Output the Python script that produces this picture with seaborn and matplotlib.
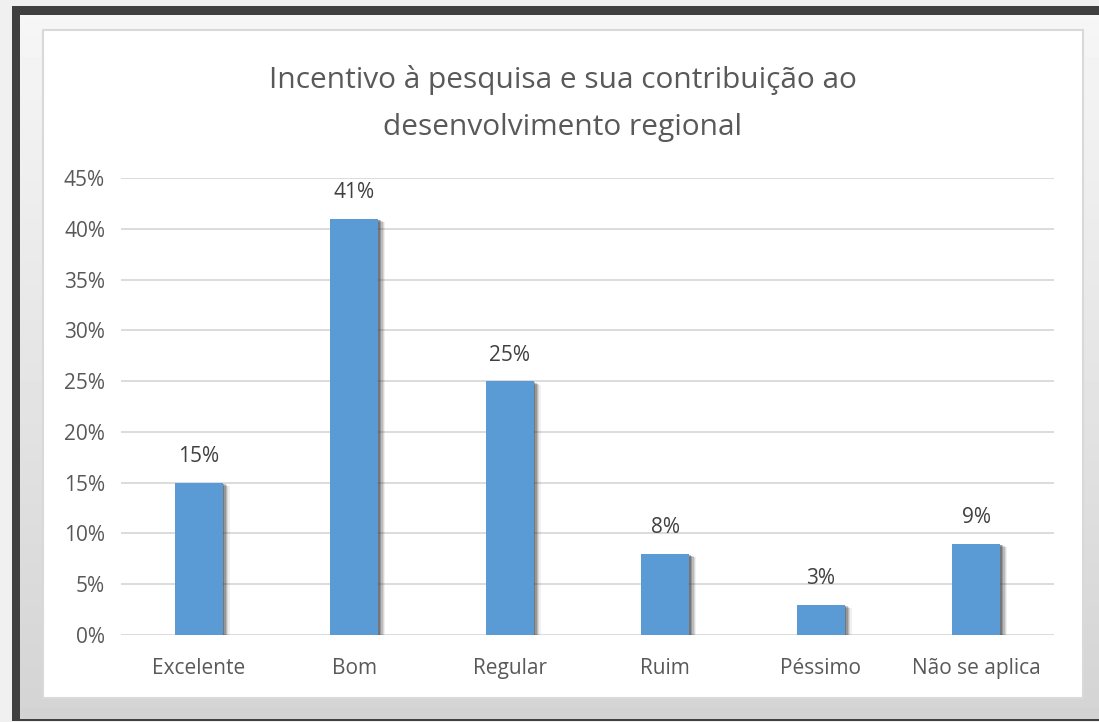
import matplotlib

matplotlib.use("Agg")

import numpy as np
import pandas as pd
import matplotlib.pyplot as plt
import matplotlib.patheffects as pe
from matplotlib.patches import Rectangle
import seaborn as sns

categories = ["Excelente", "Bom", "Regular", "Ruim", "Péssimo", "Não se aplica"]
values = [0.15, 0.41, 0.25, 0.08, 0.03, 0.09]
yticks = [0.0, 0.05, 0.10, 0.15, 0.20, 0.25, 0.30, 0.35, 0.40, 0.45]
title_lines = ["Incentivo à pesquisa e sua contribuição ao", "desenvolvimento regional"]

W, H = 1099, 722


def px_rect(x0, y0, x1, y1):
    # pixel box (top-left origin) -> figure fraction
    return (x0 / W, 1 - y1 / H, (x1 - x0) / W, (y1 - y0) / H)


def main() -> None:
    sns.set_theme(style="white")
    plt.rcParams["font.family"] = ["Open Sans", "DejaVu Sans"]

    fig = plt.figure(figsize=(W / 100, H / 100), dpi=100)
    fig.patch.set_facecolor("#f0f0f0")

    # dark frame + grey inner panel (gradient)
    x, y, w, h = px_rect(12, 6, W + 20, 721)
    fig.patches.append(Rectangle((x, y), w, h, transform=fig.transFigure,
                                 facecolor="#404040", edgecolor="none", zorder=-5))
    bg = fig.add_axes(px_rect(20, 15, W, 719))
    grad = np.linspace(0.965, 0.83, 200).reshape(-1, 1)
    bg.imshow(grad, aspect="auto", cmap="gray", vmin=0, vmax=1, extent=(0, 1, 0, 1))
    bg.set_axis_off()
    bg.set_zorder(-2)

    # white chart area
    x, y, w, h = px_rect(43, 30, 1083, 698)
    fig.patches.append(Rectangle((x, y), w, h, transform=fig.transFigure,
                                 facecolor="white", edgecolor="#d9d9d9",
                                 linewidth=1.5, zorder=1))

    for line, ypx in zip(title_lines, [80, 127]):
        fig.text(563 / W, 1 - ypx / H, line, ha="center", va="center",
                 fontsize=21.5, color="#595959", zorder=5)

    ax = fig.add_axes(px_rect(121, 178, 1054, 635))
    ax.set_facecolor("none")
    ax.set_zorder(3)

    df = pd.DataFrame({"cat": categories, "val": values})
    sns.barplot(data=df, x="cat", y="val", color="#5b9bd5", width=0.31,
                saturation=1, ax=ax, zorder=3)

    # soft drop shadow to the right, like the office chart
    shadow = [
        pe.SimplePatchShadow(offset=(1.0, -0.8), shadow_rgbFace="#333333", alpha=0.32),
        pe.SimplePatchShadow(offset=(2.0, -1.3), shadow_rgbFace="#333333", alpha=0.25),
        pe.SimplePatchShadow(offset=(3.0, -1.8), shadow_rgbFace="#333333", alpha=0.18),
        pe.SimplePatchShadow(offset=(4.0, -2.2), shadow_rgbFace="#333333", alpha=0.12),
        pe.SimplePatchShadow(offset=(5.0, -2.6), shadow_rgbFace="#333333", alpha=0.07),
        pe.Normal(),
    ]
    for bar in ax.patches:
        bar.set_path_effects(shadow)
        bar.set_edgecolor("none")

    for i, v in enumerate(values):
        ax.annotate(f"{v * 100:.0f}%", (i, v), xytext=(0, 11), textcoords="offset points",
                    ha="center", va="bottom", fontsize=15, color="#404040")

    ax.set_ylim(0, 0.45)
    ax.set_xlim(-0.5, len(categories) - 0.5)
    ax.set_yticks(yticks)
    ax.set_yticklabels([f"{t * 100:.0f}%" for t in yticks])
    ax.yaxis.grid(True, color="#d9d9d9", linewidth=1.3)
    ax.set_axisbelow(True)
    for s in ax.spines.values():
        s.set_visible(False)
    ax.set_xlabel("")
    ax.set_ylabel("")
    ax.tick_params(axis="y", length=0, pad=11.5, labelsize=15, labelcolor="#595959")
    ax.tick_params(axis="x", length=0, pad=16.5, labelsize=15, labelcolor="#595959")

    fig.savefig("out.png", dpi=100, facecolor=fig.get_facecolor())
    plt.close(fig)


if __name__ == "__main__":
    main()
